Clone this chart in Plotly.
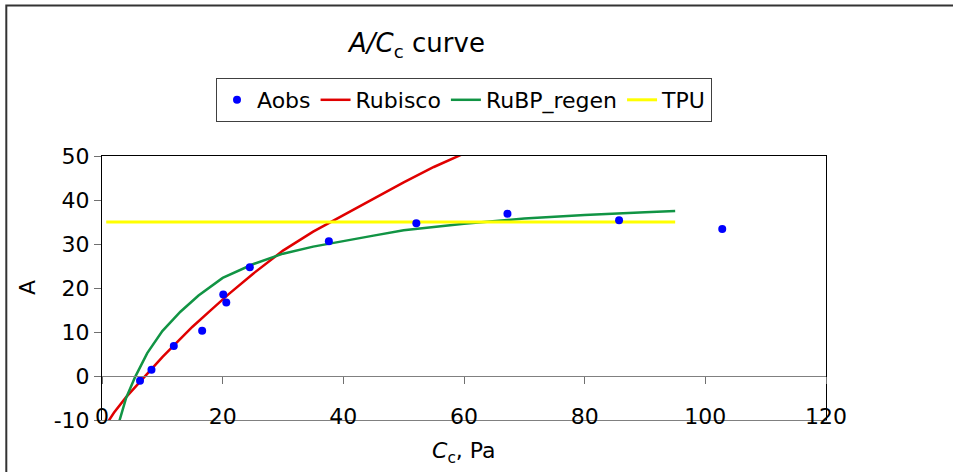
import plotly.graph_objects as go

# Observed data
obs_cc = [6.3, 8.2, 11.9, 16.6, 20.1, 20.6, 24.5, 37.6, 52.1, 67.2, 85.7, 102.8]
obs_a = [-1.1, 1.4, 6.8, 10.3, 18.5, 16.7, 24.7, 30.6, 34.7, 36.9, 35.4, 33.4]

# Rubisco-limited curve
rub_cc = [1, 2, 4, 6, 8, 10, 12, 15, 18, 21, 25, 30, 35, 40, 45, 50, 55, 60, 62]
rub_a = [-10.4, -8.3, -4.8, -1.7, 1.4, 4.3, 7.1, 11.2, 14.9, 18.6, 23.2, 28.5, 32.8, 36.5, 40.3, 44.0, 47.5, 50.6, 51.8]

# RuBP regeneration-limited curve
reg_cc = [2.5, 4, 5.5, 7.5, 10, 13, 16, 20, 25, 30, 35, 40, 45, 50, 60, 70, 80, 90, 95]
reg_a = [-12, -5, -0.2, 5.2, 10.2, 14.6, 18.3, 22.3, 25.4, 27.8, 29.4, 30.7, 31.9, 33.1, 34.6, 35.8, 36.6, 37.2, 37.5]

# TPU limit
tpu_cc = [0.7, 95]
tpu_a = [35, 35]

x_ticks = [0, 20, 40, 60, 80, 100, 120]
x_tick_labels = ["0", "20", "40", "60", "80", "100", "120"]
y_ticks = [-10, 0, 10, 20, 30, 40, 50]
y_tick_labels = ["-10", "0", "10", "20", "30", "40", "50"]

FONT = "DejaVu Sans"
FS = 22

fig = go.Figure()
fig.add_trace(go.Scatter(x=obs_cc, y=obs_a, mode="markers", name="Aobs", xaxis="x4",
                         marker=dict(color="#0000FF", size=8), cliponaxis=False))
fig.add_trace(go.Scatter(x=rub_cc, y=rub_a, mode="lines", name="Rubisco", xaxis="x",
                         line=dict(color="#E00000", width=2.5)))
fig.add_trace(go.Scatter(x=reg_cc, y=reg_a, mode="lines", name="RuBP_regen", xaxis="x2",
                         line=dict(color="#119444", width=2.5)))
fig.add_trace(go.Scatter(x=tpu_cc, y=tpu_a, mode="lines", name="TPU", xaxis="x3",
                         line=dict(color="#FFFF00", width=3)))

H_PLOT = 264.0
fig.update_layout(
    width=953, height=472,
    margin=dict(l=102, r=127, t=156, b=52, autoexpand=False),
    paper_bgcolor="white", plot_bgcolor="white",
    font=dict(family=FONT, size=FS, color="black"),
    showlegend=True,
    title=dict(text="<i>A/C</i><sub>c</sub> curve", x=417/953, xanchor="center",
               y=1-43/472, yanchor="middle", xref="container", yref="container",
               font=dict(family=FONT, size=26), automargin=False),
    legend=dict(orientation="h", x=0.5, xanchor="center", y=(420-100)/H_PLOT, yanchor="middle",
                bordercolor="#404040", borderwidth=1, bgcolor="white",
                font=dict(family=FONT, size=FS), itemwidth=30, tracegroupgap=0,
                traceorder="normal"),
    # bottom gray line (A = -10), no ticks, no labels
    xaxis=dict(range=[0, 120], tickvals=x_ticks, ticks="", showticklabels=False,
               showgrid=False, zeroline=False, showline=True, linecolor="#808080", linewidth=1),
    # top black border
    xaxis2=dict(range=[0, 120], overlaying="x", side="top", anchor="y", tickvals=x_ticks,
                ticks="", showticklabels=False, showgrid=False, zeroline=False,
                showline=True, linecolor="black", linewidth=1),
    # axis crossing at A = 0 with downward ticks
    xaxis3=dict(range=[0, 120], overlaying="x", anchor="free", position=10/60, side="bottom",
                tickvals=x_ticks, ticks="outside", ticklen=7, tickcolor="#707070",
                showticklabels=False, showgrid=False, zeroline=False,
                showline=True, linecolor="#808080", linewidth=1),
    # invisible axis carrying the x tick labels
    xaxis4=dict(range=[0, 120], overlaying="x", anchor="free", position=(420-401)/H_PLOT,
                side="bottom", tickvals=x_ticks, ticktext=x_tick_labels, ticks="",
                showticklabels=True, showgrid=False, zeroline=False, showline=False,
                tickfont=dict(family=FONT, size=FS)),
    yaxis=dict(range=[-10, 50], tickvals=y_ticks, ticktext=y_tick_labels, ticks="outside",
               ticklen=7, tickcolor="#707070",
               showgrid=False, zeroline=False, showline=True, linecolor="black", linewidth=1,
               mirror=True, tickfont=dict(family=FONT, size=FS)),
)

# Y axis title
fig.add_annotation(text="A", xref="paper", yref="paper", x=(26.7-101.7)/724, y=0.5,
                   xanchor="center", yanchor="middle", textangle=-90, showarrow=False,
                   font=dict(family=FONT, size=FS))
# X axis title
fig.add_annotation(text="<i>C</i><sub>c</sub>, Pa", xref="paper", yref="paper", x=0.5,
                   y=(420-452.5)/H_PLOT, xanchor="center", yanchor="middle", showarrow=False,
                   font=dict(family=FONT, size=FS))
# Chart area border
fig.add_shape(type="rect", xref="paper", yref="paper", x0=(6-101.7)/724, x1=1.4,
              y0=-0.5, y1=(420-5.5)/H_PLOT, line=dict(color="#333333", width=2),
              fillcolor="rgba(0,0,0,0)", layer="below")

fig.write_html("out.html", config={"displayModeBar": False},
               post_script="document.body.style.margin='0';")
